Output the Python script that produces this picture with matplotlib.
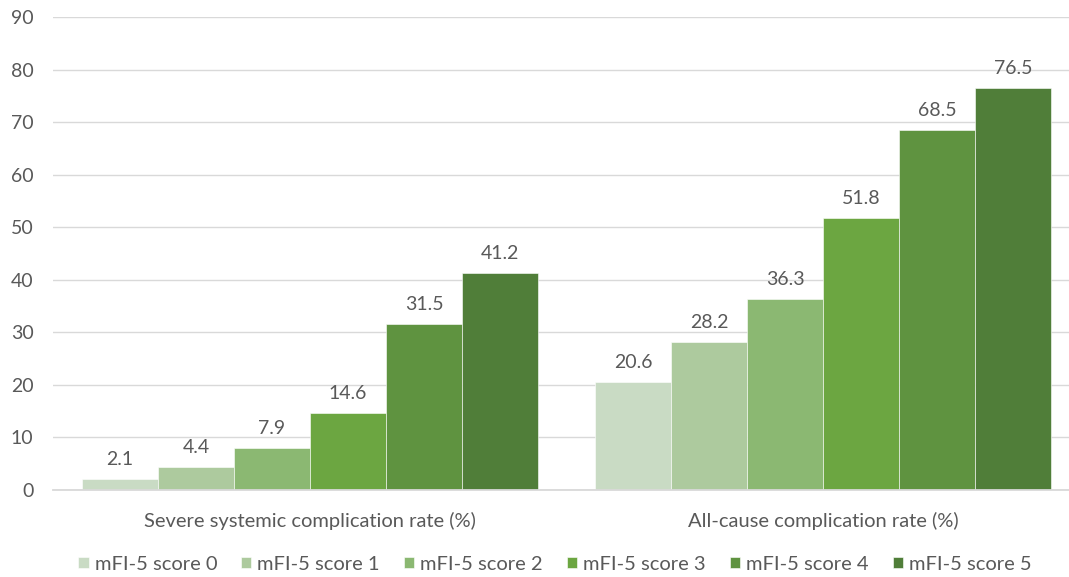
import matplotlib
matplotlib.use("Agg")
import matplotlib.pyplot as plt
import numpy as np

categories = ["Severe systemic complication rate (%)", "All-cause complication rate (%)"]
series_names = ["mFI-5 score 0", "mFI-5 score 1", "mFI-5 score 2",
                "mFI-5 score 3", "mFI-5 score 4", "mFI-5 score 5"]
values = {
    "mFI-5 score 0": [2.1, 20.6],
    "mFI-5 score 1": [4.4, 28.2],
    "mFI-5 score 2": [7.9, 36.3],
    "mFI-5 score 3": [14.6, 51.8],
    "mFI-5 score 4": [31.5, 68.5],
    "mFI-5 score 5": [41.2, 76.5],
}
colors = ["#C9DBC4", "#ADCA9E", "#8BB872", "#6CA641", "#5F9340", "#507E39"]
yticks = [0, 10, 20, 30, 40, 50, 60, 70, 80, 90]

plt.rcParams['font.family'] = ['Lato', 'DejaVu Sans']
TXT = "#595959"

fig = plt.figure(figsize=(10.69, 5.77), dpi=100)
W, H = 1069, 577
ax = fig.add_axes([53 / W, (H - 490) / H, (W - 53) / W, (490 - 17) / H])

x = np.arange(len(categories))
n = len(series_names)
bw = 76 / 513
for i, name in enumerate(series_names):
    pos = x + (i - (n - 1) / 2) * bw
    bars = ax.bar(pos, values[name], width=bw, color=colors[i], label=name,
                  edgecolor="#FFFFFF", linewidth=0.4, zorder=3)
    for b, v in zip(bars, values[name]):
        ax.annotate(f"{v:.1f}", (b.get_x() + b.get_width() / 2, v),
                    xytext=(0, 8), textcoords="offset points",
                    ha="center", va="bottom", fontsize=14, color=TXT)

ax.set_ylim(0, 90)
ax.set_xlim(-(310 - 53) / 513, 1 + (W - 823) / 513)
ax.set_yticks(yticks)
ax.set_yticklabels([str(t) for t in yticks], fontsize=14, color=TXT)
ax.set_xticks(x)
ax.set_xticklabels(categories, fontsize=14.5, color=TXT)
ax.tick_params(axis="both", length=0)
ax.tick_params(axis="y", pad=14)
ax.tick_params(axis="x", pad=16)
ax.yaxis.grid(True, color="#D9D9D9", linewidth=1, zorder=0)
ax.set_axisbelow(True)
for s in ["top", "right", "left"]:
    ax.spines[s].set_visible(False)
ax.spines["bottom"].set_color("#D9D9D9")
ax.spines["bottom"].set_linewidth(1.3)
ax.spines["bottom"].set_zorder(4)

leg = fig.legend(loc="center", bbox_to_anchor=(555 / W, (H - 564) / H), ncol=6,
                 frameon=False, fontsize=14.5, handlelength=0.5, handleheight=0.5,
                 handletextpad=0.3, columnspacing=1.2)
for t in leg.get_texts():
    t.set_color(TXT)

fig.savefig("out.png", dpi=100)
